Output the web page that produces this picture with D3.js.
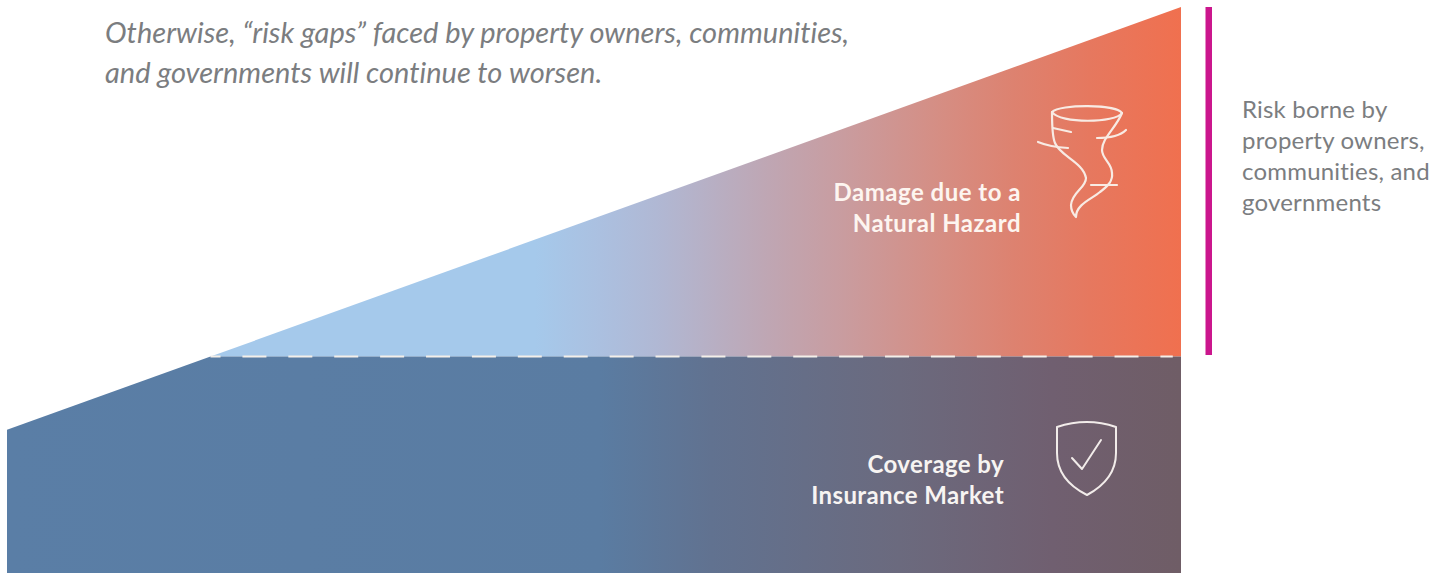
<!DOCTYPE html>
<html>
<head>
<meta charset="utf-8">
<title>Risk gap</title>
<style>
  html, body { margin: 0; padding: 0; background: #fff; }
  svg { display: block; }
  text { font-family: Lato, "Open Sans", sans-serif; font-variant-ligatures: none; }
</style>
</head>
<body>
<svg width="1445" height="573"></svg>
<script src="https://cdn.jsdelivr.net/npm/d3@7"></script>
<script>
// conceptual chart, no real units: 0-100 on both axes
const timeDomain = [0, 100];
const damageStart = 25.3;               // where the wedge begins on the value axis
const damageEnd = 100;
const coverageLevel = 38.25;            // flat insurance coverage

const hazardOffsets = [0.18, 0.45, 0.505, 0.553, 0.649, 0.713, 0.793, 0.857, 0.922, 1];
const hazardColors = ["#a5c9eb", "#a5c9eb", "#abc0e0", "#b0b8d4", "#bfa6b3", "#c99c9f", "#d58e84", "#dd8270", "#e6785f", "#f0704f"];
const coverageOffsets = [0, 0.505, 0.6, 0.76, 0.89, 1];
const coverageColors = ["#5a7ea6", "#5a7ca2", "#617290", "#6b6a7e", "#705f70", "#6f5d66"];

const introLines = ["Otherwise, “risk gaps” faced by property owners, communities,", "and governments will continue to worsen."];
const damageLines = ["Damage due to a", "Natural Hazard"];
const coverageLines = ["Coverage by", "Insurance Market"];
const sideLines = ["Risk borne by", "property owners,", "communities, and", "governments"];

const x = d3.scaleLinear().domain(timeDomain).range([7, 1181]);
const y = d3.scaleLinear().domain([0, 100]).range([573, 7]);

const svg = d3.select("svg");
const defs = svg.append("defs");

// both gradients run along the full x extent
function addGradient(id, offsets, colors) {
  const g = defs.append("linearGradient").attr("id", id)
    .attr("gradientUnits", "userSpaceOnUse")
    .attr("x1", x(0)).attr("x2", x(100)).attr("y1", 0).attr("y2", 0);
  offsets.forEach((o, i) => g.append("stop").attr("offset", o).attr("stop-color", colors[i]));
}
addGradient("hazardGrad", hazardOffsets, hazardColors);
addGradient("coverGrad", coverageOffsets, coverageColors);

// time at which the damage line reaches the coverage level
const damageAt = d3.scaleLinear().domain(timeDomain).range([damageStart, damageEnd]);
const crossT = damageAt.invert(coverageLevel);

const area = d3.area().x(d => x(d.t)).y0(d => y(d.lo)).y1(d => y(d.hi));

svg.append("path")
  .attr("d", area([{t: crossT, lo: coverageLevel, hi: coverageLevel}, {t: 100, lo: coverageLevel, hi: damageEnd}]))
  .attr("fill", "url(#hazardGrad)");

svg.append("path")
  .attr("d", area([{t: 0, lo: 0, hi: damageStart}, {t: crossT, lo: 0, hi: coverageLevel}, {t: 100, lo: 0, hi: coverageLevel}]))
  .attr("fill", "url(#coverGrad)");

svg.append("line")
  .attr("x1", x(crossT)).attr("x2", x(99.3))
  .attr("y1", y(coverageLevel)).attr("y2", y(coverageLevel))
  .attr("stroke", "#f4efe9").attr("stroke-width", 2.2)
  .attr("stroke-dasharray", "24 21.9").attr("stroke-dashoffset", 14);

// magenta bar
svg.append("rect").attr("x", 1205.5).attr("y", y(100))
  .attr("width", 6.5).attr("height", y(coverageLevel) - y(100) - 1.5)
  .attr("fill", "#cb168d");

function addLines(lines, px, py, lh, attrs) {
  const t = svg.append("text").attr("x", px).attr("y", py);
  Object.entries(attrs).forEach(([k, v]) => t.attr(k, v));
  lines.forEach((s, i) => t.append("tspan").attr("x", px).attr("y", py + i * lh).text(s));
}
addLines(introLines, 105, 43, 40, {"font-size": 29, "font-style": "italic", "fill": "#7b7d80"});
addLines(damageLines, 1021, 201, 31, {"font-size": 24, "font-weight": 700, "letter-spacing": 0.5, "fill": "#fdf5f0", "text-anchor": "end"});
addLines(coverageLines, 1004, 473, 31, {"font-size": 24, "font-weight": 700, "letter-spacing": 0.4, "fill": "#f7f4f2", "text-anchor": "end"});
addLines(sideLines, 1242, 118, 31, {"font-size": 24, "letter-spacing": 0.2, "fill": "#7b7d80"});

// tornado icon
const icon = svg.append("g").attr("fill", "none").attr("stroke", "#f8ebe4").attr("stroke-width", 2.2)
  .attr("stroke-linecap", "round").attr("stroke-linejoin", "round");
[
  "M1052,112 C1060,104 1116,104 1122,113 C1116,123 1060,124 1052,112 Z",
  "M1052,112 C1052,125 1052,136 1055,143 C1060,156 1083,162 1086,178 C1086,188 1072,192 1071,205 C1071,210 1073,214 1076,217 C1076,204 1092,199 1100,192 C1108,186 1113,181 1112,173 C1112,163 1102,159 1102,150 C1102,138 1116,128 1122,113",
  "M1053,128 Q1062,130 1071,132",
  "M1038,142 Q1050,147 1068,148",
  "M1097,138 C1108,138 1120,136 1126,130",
  "M1091,185 L1117,185"
].forEach(d => icon.append("path").attr("d", d));

// shield icon
const shield = svg.append("g").attr("fill", "none").attr("stroke", "#f2ecea").attr("stroke-width", 2)
  .attr("stroke-linecap", "round").attr("stroke-linejoin", "round");
shield.append("path").attr("d", "M1057,427 Q1087,417 1116,427 L1116,453 C1116,475 1100,488 1087,495 C1073,488 1057,475 1057,453 Z");
shield.append("path").attr("d", "M1072,458 L1082,469 L1101,440");
</script>
</body>
</html>
